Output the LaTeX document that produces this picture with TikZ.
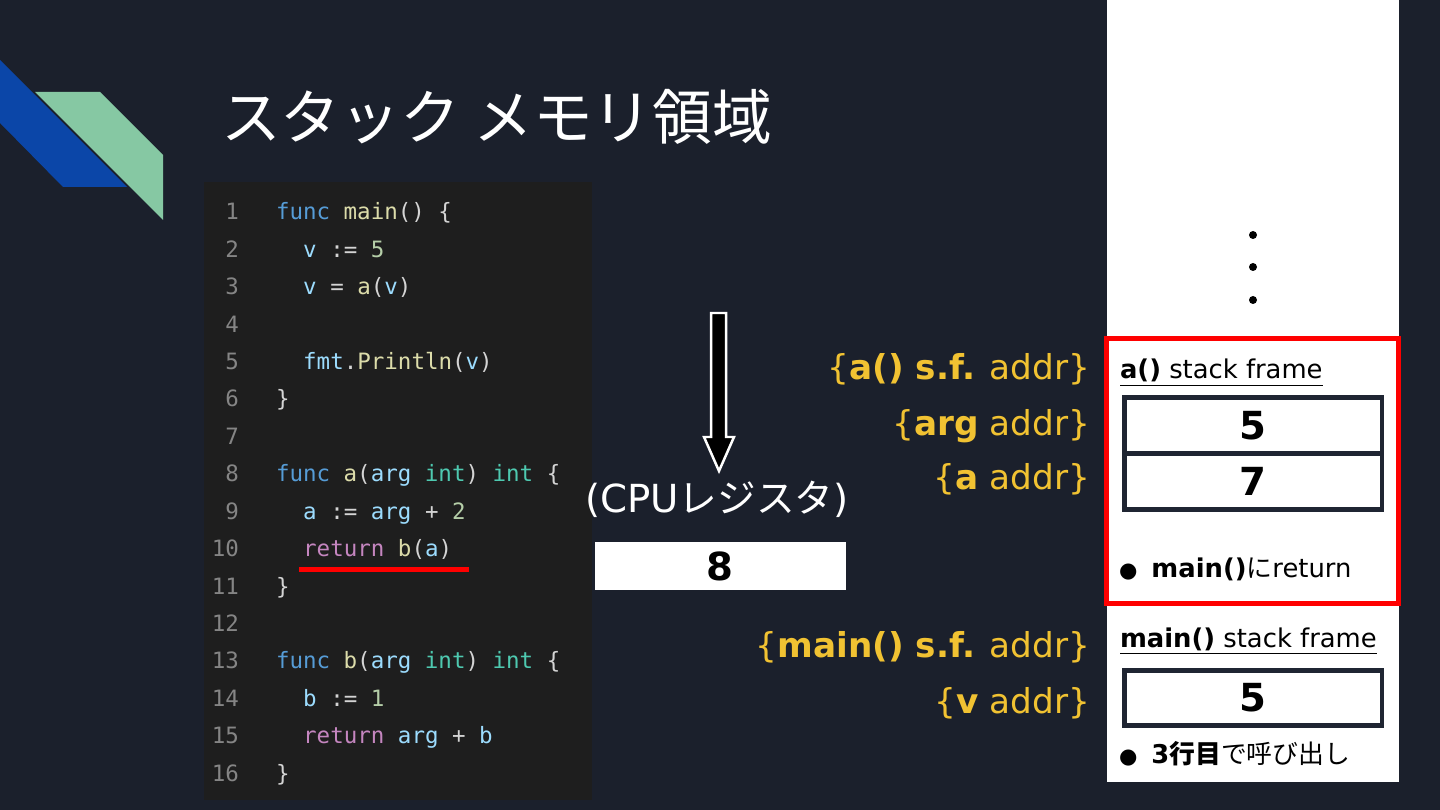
\documentclass[tikz,border=0pt]{standalone}
\usepackage{fontspec}
\setmainfont{DejaVu Sans}
\newfontfamily\jpfont{Noto Sans CJK JP}
\newfontfamily\codefont{DejaVu Sans Mono}
\usepackage{xcolor}
\usetikzlibrary{positioning,calc}
\definecolor{slidebg}{HTML}{1B202C}
\definecolor{codebg}{HTML}{1E1E1E}
\definecolor{logoblue}{HTML}{0B46A8}
\definecolor{logogreen}{HTML}{86C8A3}
\definecolor{addrgold}{HTML}{F1C232}
\definecolor{cellink}{HTML}{1F2532}
\definecolor{lnumgray}{HTML}{858585}
\definecolor{vsKw}{HTML}{569CD6}
\definecolor{vsFn}{HTML}{DCDCAA}
\definecolor{vsVar}{HTML}{9CDCFE}
\definecolor{vsNum}{HTML}{B5CEA8}
\definecolor{vsType}{HTML}{4EC9B0}
\definecolor{vsCtl}{HTML}{C586C0}
\definecolor{vsTxt}{HTML}{D4D4D4}
\newcommand\kw[1]{\textcolor{vsKw}{#1}}
\newcommand\fn[1]{\textcolor{vsFn}{#1}}
\newcommand\vr[1]{\textcolor{vsVar}{#1}}
\newcommand\nm[1]{\textcolor{vsNum}{#1}}
\newcommand\ty[1]{\textcolor{vsType}{#1}}
\newcommand\ctl[1]{\textcolor{vsCtl}{#1}}
\newcommand\jp[1]{{\jpfont #1}}
\newcommand\blt{{\fontsize{12}{12}\selectfont ●}\hspace{8pt}}

\begin{document}
\begin{tikzpicture}[x=0.02cm, y=-0.02cm,
    every node/.style={inner sep=0pt, outer sep=0pt},
    lnum/.style={anchor=base east, text=lnumgray, font=\codefont\fontsize{12.8}{15}\selectfont},
    code/.style={anchor=base west, text=vsTxt, font=\codefont\fontsize{12.8}{15}\selectfont},
    addr/.style={anchor=base east, text=addrgold, font=\fontsize{19.5}{23}\selectfont},
    sflabel/.style={anchor=base west, text=black, font=\fontsize{14.7}{17}\selectfont},
    cell/.style={draw=cellink, line width=5*\px, fill=white, minimum width=259*\px,
                 minimum height=56*\px, font=\bfseries\fontsize{22}{26}\selectfont}]
  \def\px{0.5669pt}
  \useasboundingbox[fill=slidebg] (0,0) rectangle (1440,810);

  \fill[logoblue] (0,60) -- (127,187) -- (63,187) -- (0,123) -- cycle;
  \fill[logogreen] (35,92) -- (100,92) -- (163,155) -- (163,220) -- cycle;

  \node[anchor=base west, text=white, font=\jpfont\fontsize{34}{40}\selectfont] (title)
      at (221,140) {スタック メモリ領域};

  % source listing
  \fill[codebg] (204,182) rectangle (592,800);
  \foreach \i in {1,...,16} {
    \coordinate (L\i) at (276,{220+37.4*(\i-1)});
    \node[lnum] (ln\i) at ($(L\i)+(-37,0)$) {\i};
  }
  \node[code] (c1) at (L1) {\kw{func} \fn{main}() \{};
  \node[code] (c2) at ($(L2)+(27.2,0)$) {\vr{v} := \nm{5}};
  \node[code] (c3) at ($(L3)+(27.2,0)$) {\vr{v} = \fn{a}(\vr{v})};
  \node[code] (c5) at ($(L5)+(27.2,0)$) {\vr{fmt}.\fn{Println}(\vr{v})};
  \node[code] (c6) at (L6) {\}};
  \node[code] (c8) at (L8) {\kw{func} \fn{a}(\vr{arg} \ty{int}) \ty{int} \{};
  \node[code] (c9) at ($(L9)+(27.2,0)$) {\vr{a} := \vr{arg} + \nm{2}};
  \node[code] (c10) at ($(L10)+(27.2,0)$) {\ctl{return} \fn{b}(\vr{a})};
  \node[code] (c11) at (L11) {\}};
  \node[code] (c13) at (L13) {\kw{func} \fn{b}(\vr{arg} \ty{int}) \ty{int} \{};
  \node[code] (c14) at ($(L14)+(27.2,0)$) {\vr{b} := \nm{1}};
  \node[code] (c15) at ($(L15)+(27.2,0)$) {\ctl{return} \vr{arg} + \vr{b}};
  \node[code] (c16) at (L16) {\}};
  \draw[red, line width=5*\px] (299,569.5) -- (469,569.5);

  % register
  \draw[fill=black, draw=white, line width=2.5*\px]
    (711,313) -- (726,313) -- (726,437) -- (734,437) -- (719,471)
    -- (704,437) -- (711,437) -- cycle;
  \node[anchor=base, text=white, font=\fontsize{22}{26}\selectfont] (cpu)
      at (717,513) {(CPU\jp{レジスタ})};
  \node[fill=white, minimum width=252*\px, minimum height=48*\px,
        font=\bfseries\fontsize{22}{26}\selectfont] (reg) at (720,566) {8};

  % stack
  \fill[white] (1107,0) rectangle (1399,782);
  \foreach \y in {235,267,300}
    \fill[black] (1253,\y) circle (4);
  \node[draw=red, line width=5*\px, minimum width=293.5*\px,
        minimum height=267*\px] (aframe) at (1252.75,471) {};
  \node[sflabel] (atitle) at (1120,379) {\underline{\textbf{a()} stack frame}};
  \node[cell] (argcell) at (1253,425.5) {5};
  \node[cell] (acell) at (1253,481.5) {7};
  \node[sflabel] (aret) at (1119,578) {\blt\textbf{main()}\jp{に}return};
  \node[sflabel] (mtitle) at (1120,647) {\underline{\textbf{main()} stack frame}};
  \node[cell, minimum height=55*\px] (vcell) at (1253,698) {5};
  \node[sflabel] (mcall) at (1119,763) {\blt\textbf{3\jp{行目}}\jp{で呼び出し}};

  \node[addr] (aaddr) at (1090,380) {\{\textbf{a() s.f.} addr\}};
  \node[addr] (argaddr) at (1090,436) {\{\textbf{arg} addr\}};
  \node[addr] (avaddr) at (1090,490) {\{\textbf{a} addr\}};
  \node[addr] (maddr) at (1090,657) {\{\textbf{main() s.f.} addr\}};
  \node[addr] (vaddr) at (1090,713) {\{\textbf{v} addr\}};
\end{tikzpicture}
\end{document}
